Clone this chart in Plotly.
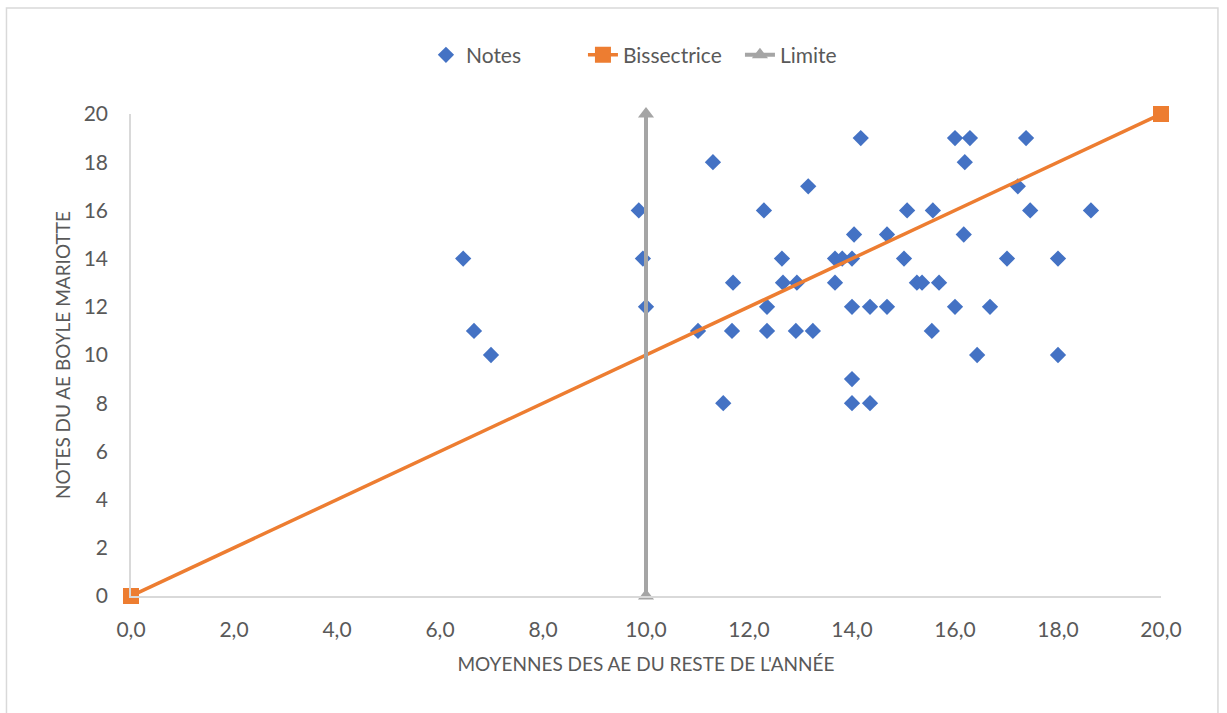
import plotly.graph_objects as go

# Moyennes des AE du reste de l'année (x) et notes du AE Boyle Mariotte (y)
moyennes = [
    6.45, 6.66, 6.99, 9.86, 9.94, 10.0, 11.01, 11.30, 11.50, 11.69,
    11.67, 12.29, 12.35, 12.35, 12.64, 12.66, 12.93, 12.91, 13.15, 13.24,
    13.67, 13.67, 13.81, 14.0, 14.0, 14.0, 14.35, 14.04, 14.17, 14.0,
    14.35, 14.68, 14.68, 15.01, 15.07, 15.26, 15.36, 15.69, 15.57, 15.55,
    16.0, 16.29, 16.19, 16.17, 16.0, 16.43, 16.68, 17.01, 17.22, 17.38,
    17.46, 18.0, 18.0, 18.64,
]
notes = [
    14, 11, 10, 16, 14, 12, 11, 18, 8, 13,
    11, 16, 12, 11, 14, 13, 13, 11, 17, 11,
    14, 13, 14, 14, 9, 8, 8, 15, 19, 12,
    12, 12, 15, 14, 16, 13, 13, 13, 16, 11,
    19, 19, 18, 15, 12, 10, 12, 14, 17, 19,
    16, 14, 10, 16,
]

bissectrice_x = [0, 20]
bissectrice_y = [0, 20]
limite_x = [10, 10]
limite_y = [0, 20]

x_ticks = [0, 2, 4, 6, 8, 10, 12, 14, 16, 18, 20]
x_tick_labels = ["0,0", "2,0", "4,0", "6,0", "8,0", "10,0", "12,0", "14,0", "16,0", "18,0", "20,0"]
y_ticks = [0, 2, 4, 6, 8, 10, 12, 14, 16, 18, 20]

FONT = "Lato"
TXT = "#595959"
AXIS = "#D9D9D9"

fig = go.Figure()
fig.add_trace(go.Scatter(
    x=moyennes, y=notes, mode="markers", name="Notes",
    marker=dict(symbol="diamond", size=12.5, color="#4472C4"),
    cliponaxis=False,
))
fig.add_trace(go.Scatter(
    x=bissectrice_x, y=bissectrice_y, mode="lines+markers", name="Bissectrice",
    line=dict(color="#ED7D31", width=3.5),
    marker=dict(symbol="square", size=16, color="#ED7D31"),
    cliponaxis=False,
))
fig.add_trace(go.Scatter(
    x=limite_x, y=limite_y, mode="lines+markers", name="Limite",
    line=dict(color="#A5A5A5", width=4),
    marker=dict(symbol="triangle-up", size=14, color="#A5A5A5"),
    cliponaxis=False,
))

fig.update_layout(
    width=1227, height=713,
    margin=dict(l=131, r=66, t=114, b=117),
    paper_bgcolor="white", plot_bgcolor="white",
    font=dict(family=FONT, size=21, color=TXT),
    showlegend=True,
    legend=dict(
        orientation="h", x=0.515, xanchor="center", y=1.122, yanchor="middle",
        font=dict(family=FONT, size=21, color=TXT),
        traceorder="normal", entrywidth=112, entrywidthmode="pixels",
    ),
    xaxis=dict(
        range=[0, 20], tickvals=x_ticks, ticktext=x_tick_labels,
        showgrid=False, zeroline=False, showline=True, linecolor=AXIS, linewidth=1.5,
        ticks="outside", ticklen=14, tickcolor="rgba(0,0,0,0)",
        tickfont=dict(family=FONT, size=21, color=TXT),
        title=dict(text="MOYENNES DES AE DU RESTE DE L'ANNÉE",
                   font=dict(family=FONT, size=19, color=TXT), standoff=18),
    ),
    yaxis=dict(
        range=[0, 20], tickvals=y_ticks,
        showgrid=False, zeroline=False, showline=True, linecolor=AXIS, linewidth=1.5,
        ticks="outside", ticklen=17, tickcolor="rgba(0,0,0,0)",
        tickfont=dict(family=FONT, size=21, color=TXT),
        title=dict(text="NOTES DU AE BOYLE MARIOTTE",
                   font=dict(family=FONT, size=19, color=TXT), standoff=8),
    ),
    shapes=[dict(
        type="rect", xref="paper", yref="paper",
        x0=-0.1209, x1=1.0553, y0=-0.26, y1=1.2199,
        line=dict(color="#D9D9D9", width=1.5), fillcolor="rgba(0,0,0,0)",
        layer="below",
    )],
)

fig.write_html("out.html")
